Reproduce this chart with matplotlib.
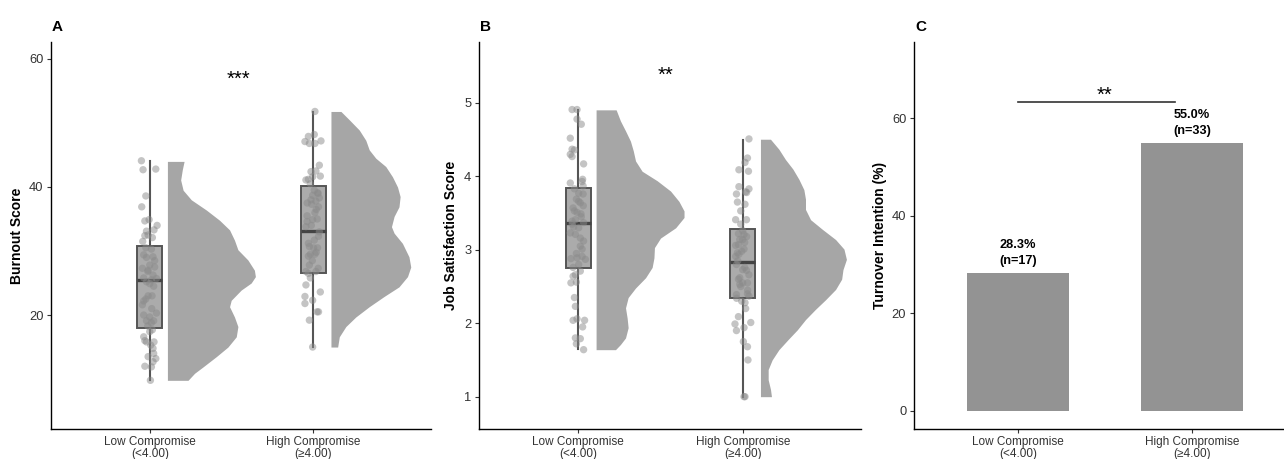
import matplotlib
matplotlib.use("Agg")
import matplotlib.pyplot as plt
import numpy as np

plt.rcParams['font.family'] = ['Liberation Sans', 'DejaVu Sans']

groups = ["Low Compromise\n(<4.00)", "High Compromise\n(\u22654.00)"]

# ---- panel A: burnout (points, box summary, half-violin profile)
burn_low = [44.1, 42.7, 42.8, 38.6, 36.9, 34.7, 34.9, 34.0, 33.3, 33.1, 32.4, 32.5, 32.1, 30.3, 29.4,
            29.0, 29.1, 27.3, 27.8, 27.0, 26.25, 25.5, 25.7, 25.2, 24.9, 23.0, 23.0, 22.2, 21.6, 20.3,
            19.7, 19.1, 18.8, 19.1, 17.7, 17.4, 16.6, 15.8, 15.8, 15.3, 14.8, 14.0, 13.5, 12.7, 12.0,
            11.9, 9.8, 30.5, 28.5, 26.8, 25.8, 24.5, 22.5, 21.0, 20.0, 18.3, 16.0, 13.2, 31.5, 27.5]
burn_low_jit = [-0.051, -0.041, 0.037, -0.024, -0.049, -0.030, -0.004, 0.045, 0.026, -0.020, -0.030,
                -0.010, 0.016, 0.010, -0.037, -0.020, 0.020, -0.045, 0.0, -0.010, 0.020, 0.010, 0.041,
                -0.020, 0.0, -0.010, 0.014, -0.037, -0.045, 0.041, 0.0, 0.024, 0.010, -0.020, 0.016,
                0.0, -0.037, -0.020, 0.026, 0.006, 0.020, 0.024, -0.010, 0.020, -0.030, 0.010, 0.004,
                -0.024, 0.030, -0.012, -0.037, 0.024, -0.024, 0.012, -0.037, -0.012, -0.030, 0.037,
                -0.043, 0.030]
burn_high = [51.8, 47.9, 48.2, 47.1, 46.8, 46.8, 47.2, 43.4, 42.4, 42.5, 41.7, 41.6, 41.1, 41.2, 39.5,
             39.1, 38.7, 38.3, 38.0, 37.8, 37.3, 36.9, 36.0, 35.5, 34.9, 34.6, 33.8, 32.3, 31.7, 30.7,
             30.5, 30.5, 29.2, 29.5, 29.5, 27.8, 26.8, 26.8, 26.5, 25.8, 24.7, 23.6, 22.9, 22.3, 21.8,
             20.5, 20.5, 19.2, 15.0, 40.5, 39.0, 37.5, 36.5, 35.0, 34.0, 33.0, 31.2, 29.8, 28.5, 27.3]
burn_high_jit = [0.010, -0.030, 0.006, -0.051, -0.024, 0.010, 0.047, 0.037, -0.014, 0.016, 0.043,
                 -0.004, -0.045, -0.030, 0.006, 0.026, -0.004, 0.037, -0.014, 0.016, -0.010, 0.032,
                 0.010, -0.038, -0.004, -0.038, -0.045, 0.032, 0.006, -0.024, 0.002, 0.026, -0.030,
                 0.010, -0.018, -0.024, -0.045, 0.016, -0.030, -0.018, -0.045, 0.043, -0.051, -0.004,
                 -0.051, 0.023, 0.032, -0.024, -0.004, -0.018, 0.030, -0.037, 0.018, 0.024, -0.012,
                 0.037, -0.030, 0.018, -0.006, 0.030]
burn_box = [dict(whislo=9.8, q1=18.0, med=25.5, q3=30.8, whishi=44.0),
            dict(whislo=15.0, q1=26.6, med=33.1, q3=40.1, whishi=51.7)]
burn_low_vy = [44.0, 42.7, 41.1, 39.5, 38.0, 36.4, 34.8, 33.3, 31.7, 30.2, 28.6, 27.0, 26.0, 25.0,
               23.9, 22.3, 21.3, 19.7, 18.2, 16.6, 15.0, 13.5, 11.9, 10.9, 9.8]
burn_low_vw = [0.102, 0.091, 0.081, 0.096, 0.146, 0.238, 0.319, 0.380, 0.410, 0.431, 0.492, 0.532,
               0.538, 0.512, 0.451, 0.390, 0.380, 0.410, 0.431, 0.421, 0.370, 0.299, 0.218, 0.166, 0.126]
burn_high_vy = [51.8, 50.5, 48.9, 47.3, 45.8, 44.5, 43.2, 41.6, 40.0, 38.5, 36.9, 35.4, 33.8, 32.8,
                31.2, 29.1, 27.5, 26.0, 24.4, 22.9, 21.3, 19.7, 18.2, 16.6, 15.0]
burn_high_vw = [0.061, 0.112, 0.173, 0.213, 0.234, 0.274, 0.335, 0.376, 0.407, 0.423, 0.416, 0.386,
                0.370, 0.386, 0.437, 0.477, 0.488, 0.468, 0.416, 0.325, 0.234, 0.152, 0.091, 0.051, 0.041]

# ---- panel B: job satisfaction
sat_low = [4.91, 4.91, 4.78, 4.71, 4.52, 4.37, 4.36, 4.30, 4.27, 4.17, 3.96, 3.93, 3.91, 3.87, 3.77,
           3.76, 3.69, 3.64, 3.66, 3.57, 3.53, 3.51, 3.49, 3.39, 3.41, 3.37, 3.31, 3.30, 3.23, 3.21,
           3.16, 3.12, 3.01, 2.89, 2.91, 2.87, 2.88, 2.80, 2.76, 2.71, 2.66, 2.64, 2.55, 2.56, 2.35,
           2.23, 2.04, 2.06, 2.04, 1.95, 1.80, 1.79, 1.72, 1.64, 3.83, 3.45, 3.35, 3.05, 2.95, 3.60]
sat_low_jit = [-0.038, -0.008, -0.008, 0.018, -0.049, -0.038, -0.024, -0.049, -0.038, 0.032, 0.026,
               0.023, -0.049, 0.029, 0.002, 0.029, -0.012, 0.012, 0.002, -0.032, -0.024, -0.008, 0.016,
               -0.038, -0.018, 0.032, -0.029, 0.002, -0.049, -0.018, 0.012, 0.032, 0.023, -0.008, 0.023,
               0.043, -0.045, 0.002, -0.032, 0.012, -0.018, -0.032, -0.045, -0.012, -0.024, -0.018,
               -0.032, -0.008, 0.038, 0.026, -0.018, 0.012, -0.012, 0.032, -0.024, 0.018, -0.037,
               0.012, -0.012, 0.030]
sat_high = [4.51, 4.25, 4.19, 4.09, 4.07, 3.86, 3.83, 3.79, 3.76, 3.78, 3.65, 3.62, 3.53, 3.41, 3.41,
            3.26, 3.22, 3.21, 3.14, 3.14, 3.06, 3.07, 2.96, 3.01, 2.91, 2.94, 2.80, 2.73, 2.72, 2.66,
            2.60, 2.55, 2.53, 2.55, 2.50, 2.39, 2.40, 2.37, 2.30, 2.28, 2.20, 2.09, 1.99, 2.01, 1.94,
            1.90, 1.75, 1.68, 1.50, 1.00, 1.00, 3.35, 3.18, 2.85, 2.76, 2.62, 2.45, 2.34, 3.10, 2.98]
sat_high_jit = [0.038, 0.029, 0.014, -0.023, 0.035, -0.023, 0.038, 0.018, -0.038, 0.024, -0.032, 0.014,
                -0.012, -0.043, 0.023, 0.0, -0.026, 0.008, -0.018, 0.0, -0.043, -0.026, -0.032, 0.008,
                -0.043, -0.023, -0.038, 0.0, 0.023, 0.038, -0.026, 0.0, -0.018, 0.029, -0.012, -0.038,
                0.029, 0.038, -0.006, 0.014, 0.018, -0.026, -0.047, 0.049, 0.008, -0.038, 0.004, 0.029,
                0.032, 0.014, 0.008, -0.012, 0.024, -0.030, 0.012, -0.018, 0.030, -0.037, 0.012, -0.006]
sat_box = [dict(whislo=1.65, q1=2.75, med=3.36, q3=3.84, whishi=4.90),
           dict(whislo=1.00, q1=2.34, med=2.84, q3=3.29, whishi=4.50)]
sat_low_vy = [4.906, 4.756, 4.62, 4.48, 4.35, 4.21, 4.07, 3.94, 3.80, 3.66, 3.53, 3.44, 3.30, 3.16,
              3.03, 2.89, 2.76, 2.62, 2.48, 2.35, 2.21, 2.07, 1.94, 1.80, 1.71, 1.64]
sat_low_vw = [0.122, 0.148, 0.179, 0.209, 0.226, 0.240, 0.280, 0.372, 0.453, 0.504, 0.535, 0.535,
              0.484, 0.392, 0.355, 0.352, 0.341, 0.301, 0.240, 0.195, 0.179, 0.189, 0.195, 0.179,
              0.148, 0.118]
sat_high_vy = [4.506, 4.37, 4.23, 4.10, 3.96, 3.82, 3.69, 3.55, 3.41, 3.28, 3.14, 3.01, 2.87, 2.73,
               2.60, 2.46, 2.32, 2.19, 2.05, 1.91, 1.78, 1.64, 1.50, 1.37, 1.23, 1.10, 1.00]
sat_high_vw = [0.061, 0.112, 0.152, 0.197, 0.234, 0.264, 0.274, 0.274, 0.305, 0.376, 0.457, 0.508,
               0.523, 0.502, 0.494, 0.457, 0.396, 0.335, 0.274, 0.224, 0.169, 0.112, 0.071, 0.047,
               0.047, 0.061, 0.067]

# ---- panel C: turnover intention
turnover_pct = [28.3, 55.0]
turnover_n = [17, 33]

pos = np.array([1, 2])
dark = '#555555'


def raincloud(ax, pts, jit, box, vys, vws, ylab, star, star_xy, ylim, yticks):
    for i, (vy, vw) in enumerate(zip(vys, vws)):
        base = pos[i] + 0.108
        ax.fill_betweenx(vy, base, base + np.array(vw), color='#A6A6A6', lw=0, zorder=1)
    stats = [dict(b, fliers=[]) for b in box]
    ax.bxp(stats, positions=pos, widths=0.152, patch_artist=True, showfliers=False, showcaps=False,
           boxprops=dict(facecolor='#ABABAB', edgecolor=dark, linewidth=1.4),
           whiskerprops=dict(color=dark, linewidth=1.5),
           medianprops=dict(color='#444444', linewidth=2.4), zorder=2)
    for i in range(2):
        ax.scatter(pos[i] + np.array(jit[i]), pts[i], s=28, color='#8a8a8a', alpha=0.5,
                   edgecolors='none', zorder=3)
    ax.text(star_xy[0], star_xy[1], star, ha='center', va='baseline', fontsize=14.5, zorder=4)
    ax.set_xlim(0.396, 2.72)
    ax.set_ylim(*ylim)
    ax.set_yticks(yticks)
    ax.set_ylabel(ylab, fontsize=10, fontweight='bold')


fig = plt.figure(figsize=(12.84, 4.59), dpi=100)
axA = fig.add_axes([0.0397, 0.0654, 0.2960, 0.8431])
axB = fig.add_axes([0.3731, 0.0654, 0.2975, 0.8431])
axC = fig.add_axes([0.7118, 0.0654, 0.2874, 0.8431])

raincloud(axA, [burn_low, burn_high], [burn_low_jit, burn_high_jit], burn_box,
          [burn_low_vy, burn_high_vy], [burn_low_vw, burn_high_vw],
          'Burnout Score', '***', (1.54, 56.0), (2.2, 62.65), [20, 40, 60])
raincloud(axB, [sat_low, sat_high], [sat_low_jit, sat_high_jit], sat_box,
          [sat_low_vy, sat_high_vy], [sat_low_vw, sat_high_vw],
          'Job Satisfaction Score', '**', (1.53, 5.30), (0.56, 5.83), [1, 2, 3, 4, 5])

axC.bar(pos, turnover_pct, width=0.59, color='#939393', zorder=2)
for x, p, n in zip(pos, turnover_pct, turnover_n):
    axC.text(x, p + 1.2, f"{p:.1f}%\n(n={n})", ha='center', va='bottom', fontsize=9.2,
             fontweight='bold', linespacing=1.45)
axC.plot([1.0, 1.9], [63.3, 63.3], color='#333333', lw=1.2)
axC.text(1.5, 63.6, '**', ha='center', va='baseline', fontsize=14.5)
axC.set_xlim(0.402, 2.523)
axC.set_ylim(-3.7, 75.6)
axC.set_yticks([0, 20, 40, 60])
axC.set_ylabel('Turnover Intention (%)', fontsize=10, fontweight='bold')

for ax, lx in [(axA, -0.071), (axB, -0.055), (axC, -0.073)]:
    ax.spines['top'].set_visible(False)
    ax.spines['right'].set_visible(False)
    for s in ('left', 'bottom'):
        ax.spines[s].set_linewidth(1.0)
        ax.spines[s].set_color('black')
    ax.set_xticks(pos)
    ax.set_xticklabels(groups, fontsize=8.5, color='#333333', linespacing=1.05)
    ax.tick_params(axis='x', length=3, width=0.8, pad=2, color='#333333')
    ax.tick_params(axis='y', length=3, width=0.8, pad=2.5, labelsize=9.3, labelcolor='#333333',
                   color='#333333')
    ax.yaxis.set_label_coords(lx, 0.5)

for lab, xp in [('A', 52), ('B', 480), ('C', 915)]:
    fig.text(xp / 1284, 1 - 31 / 459, lab, fontsize=11, fontweight='bold', ha='left', va='baseline')

fig.savefig('out.png', dpi=100)
